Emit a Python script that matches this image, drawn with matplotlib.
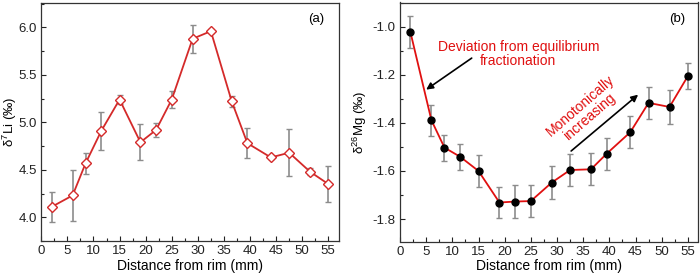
import matplotlib
matplotlib.use("Agg")
import matplotlib.pyplot as plt
from matplotlib.ticker import MultipleLocator

plt.rcParams['font.family'] = ['Liberation Sans', 'DejaVu Sans']
plt.rcParams['mathtext.fontset'] = 'custom'
plt.rcParams['mathtext.rm'] = 'Liberation Sans'

distance = [2, 6, 8.5, 11.5, 15, 19, 22, 25, 29, 32.5, 36.5, 39.5, 44, 47.5, 51.5, 55]
li_values = [4.11, 4.23, 4.57, 4.91, 5.24, 4.79, 4.92, 5.24, 5.88, 5.96, 5.22, 4.78, 4.63, 4.68, 4.48, 4.35]
li_errors = [0.155, 0.27, 0.11, 0.20, 0.05, 0.19, 0.07, 0.085, 0.15, 0.02, 0.06, 0.155, 0.02, 0.25, 0.04, 0.185]
mg_values = [-1.024, -1.389, -1.503, -1.541, -1.600, -1.731, -1.727, -1.725, -1.648, -1.596, -1.593, -1.528, -1.439, -1.317, -1.334, -1.206]
mg_errors = [0.066, 0.065, 0.054, 0.054, 0.067, 0.066, 0.067, 0.067, 0.068, 0.067, 0.067, 0.067, 0.067, 0.067, 0.069, 0.054]
x_ticks = [0, 5, 10, 15, 20, 25, 30, 35, 40, 45, 50, 55]

fig = plt.figure(figsize=(7.0, 2.76), dpi=100)
ax1 = fig.add_axes([41.3/700, 1-241/276, (338.7-41.3)/700, (241-2.7)/276])
ax2 = fig.add_axes([400/700, 1-241.5/276, (698.3-400)/700, (241.5-2.5)/276])

tick_fs = 9.5
label_fs = 10

for ax in (ax1, ax2):
    ax.set_xlim(0, 57)
    ax.set_xticks(x_ticks)
    ax.xaxis.set_minor_locator(MultipleLocator(2.5))
    ax.tick_params(which='both', direction='in', labelsize=tick_fs, colors='#222222')
    ax.tick_params(which='major', length=3.5, width=0.8, pad=3)
    ax.tick_params(which='minor', length=2, width=0.8)
    for s in ax.spines.values():
        s.set_linewidth(0.9)
        s.set_color('#333333')
    ax.set_xlabel('Distance from rim (mm)', fontsize=label_fs, labelpad=1)

# Panel (a)
ax1.errorbar(distance, li_values, yerr=li_errors, fmt='none', ecolor='#8c8c8c',
             elinewidth=1.2, capsize=2.5, capthick=1.0, zorder=2)
ax1.plot(distance, li_values, color='#d42a2a', lw=1.3, marker='D', ms=4.8,
         mfc='white', mec='#d42a2a', mew=1.0, zorder=3)
ax1.set_ylim(3.75, 6.26)
ax1.set_yticks([4.0, 4.5, 5.0, 5.5, 6.0])
ax1.yaxis.set_minor_locator(MultipleLocator(0.25))
ax1.set_ylabel(r'$\mathregular{\delta^7}$Li (‰)', fontsize=9.5, va='center')
ax1.yaxis.set_label_coords(-0.106, 0.5)
ax1.text(0.925, 0.93, '(a)', transform=ax1.transAxes, fontsize=9.5, ha='center', va='center')

# Panel (b)
ax2.errorbar(distance, mg_values, yerr=mg_errors, fmt='none', ecolor='#8c8c8c',
             elinewidth=1.2, capsize=2.5, capthick=1.0, zorder=2)
ax2.plot(distance, mg_values, color='#e01010', lw=1.3, marker='o', ms=5,
         mfc='black', mec='black', zorder=3)
ax2.set_ylim(-1.893, -0.90)
ax2.set_yticks([-1.8, -1.6, -1.4, -1.2, -1.0])
ax2.set_yticklabels(['-1.8', '-1.6', '-1.4', '-1.2', '-1.0'])
ax2.yaxis.set_minor_locator(MultipleLocator(0.1))
ax2.set_ylabel(r'$\mathregular{\delta^{26}}$Mg (‰)', fontsize=9.5, va='center')
ax2.yaxis.set_label_coords(-0.134, 0.5)
ax2.text(0.93, 0.93, '(b)', transform=ax2.transAxes, fontsize=9.5, ha='center', va='center')

ax2.text(22.6, -1.112, 'Deviation from equilibrium\nfractionation', color='#e01010',
         fontsize=10, ha='center', va='center', linespacing=1.0)
ax2.annotate('', xy=(5.0, -1.262), xytext=(13.7, -1.131),
             arrowprops=dict(arrowstyle='-|>', color='black', lw=1.2,
                             mutation_scale=10, shrinkA=0, shrinkB=0))
ax2.text(35.3, -1.352, 'Monotonically\nincreasing', color='#e01010',
         fontsize=10, ha='center', va='center', rotation=41, linespacing=1.0)
ax2.annotate('', xy=(45.5, -1.283), xytext=(32.7, -1.517),
             arrowprops=dict(arrowstyle='-|>', color='black', lw=1.2,
                             mutation_scale=10, shrinkA=0, shrinkB=0))

fig.savefig('out.png', dpi=100)
